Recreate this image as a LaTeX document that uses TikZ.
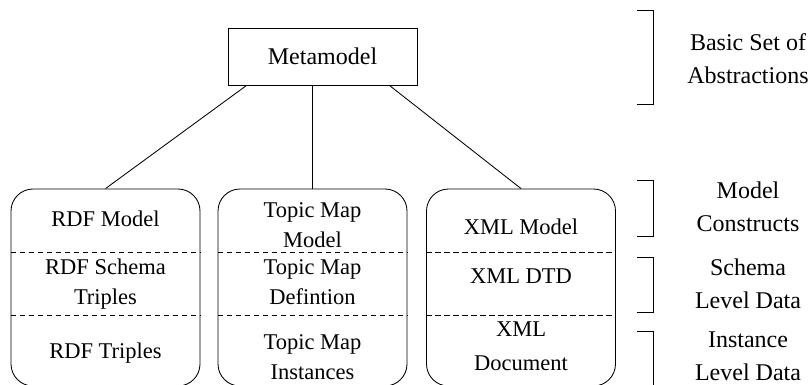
\documentclass[tikz,border=0pt]{standalone}
\usepackage{fontspec}
\setmainfont{Liberation Serif}

\begin{document}
\begin{tikzpicture}[x=1pt,y=-1pt,line width=0.85pt,
	stack/.style={draw,rounded corners=22pt,minimum width=189pt,minimum height=197pt,inner sep=0pt},
	cell/.style={align=center,inner sep=0pt,font=\fontsize{22.5}{30}\selectfont},
	level/.style={align=center,inner sep=0pt,font=\fontsize{24}{33}\selectfont},
	divider/.style={dash pattern=on 5.5pt off 3.5pt}]
				\useasboundingbox (0,0) rectangle (811,385);
				
				\node (meta) at (322.5,56.5) [draw,minimum width=189pt,minimum height=57pt,font=\fontsize{24}{30}\selectfont] {Metamodel};
				
				\node (rdf) at (105.5,287.5) [stack] {};
				\node (tm) at (312.5,287.5) [stack] {};
				\node (xml) at (521,287.5) [stack] {};
				
				\draw[divider] (rdf.west |- 0,252) -- (rdf.east |- 0,252);
				\draw[divider] (rdf.west |- 0,315) -- (rdf.east |- 0,315);
				\draw[divider] (tm.west |- 0,252) -- (tm.east |- 0,252);
				\draw[divider] (tm.west |- 0,315) -- (tm.east |- 0,315);
				\draw[divider] (xml.west |- 0,252) -- (xml.east |- 0,252);
				\draw[divider] (xml.west |- 0,315) -- (xml.east |- 0,315);
				
				\node (rdf1) at (105.5,219.3) [cell] {RDF Model};
				\node (rdf2) at (105.5,284.2) [cell] {RDF Schema\\Triples};
				\node (rdf3) at (105.5,352.7) [cell] {RDF Triples};
				\node (tm1) at (312.5,224.8) [cell] {Topic Map\\Model};
				\node (tm2) at (312.5,281.8) [cell] {Topic Map\\Defintion};
				\node (tm3) at (312.5,357.6) [cell] {Topic Map\\Instances};
				\node (xml1) at (521,227.3) [cell] {XML Model};
				\node (xml2) at (521,275.9) [cell] {XML DTD};
				\node (xml3) at (521,346.5) [cell] {XML\\[4pt]Document};
				
				\draw ([xshift=19pt]meta.south west) -- (rdf.north);
				\draw (meta.south -| tm.north) -- (tm.north);
				\draw ([xshift=-28pt]meta.south east) -- (xml.north);
				
				\draw (637,10) -- (653,10) -- (653,104) -- (637,104);
				\draw (637,180) -- (653,180) -- (653,236) -- (637,236);
				\draw (637,257) -- (653,257) -- (653,312) -- (637,312);
				\draw (637,331) -- (653,331) -- (653,387);
				
				\node (l1) at (748,58.3) [level] {Basic Set of\\Abstractions};
				\node (l2) at (748,206.8) [level] {Model\\Constructs};
				\node (l3) at (748,283.3) [level] {Schema\\Level Data};
				\node (l4) at (748,356.3) [level] {Instance\\Level Data};
			\end{tikzpicture}
\end{document}
